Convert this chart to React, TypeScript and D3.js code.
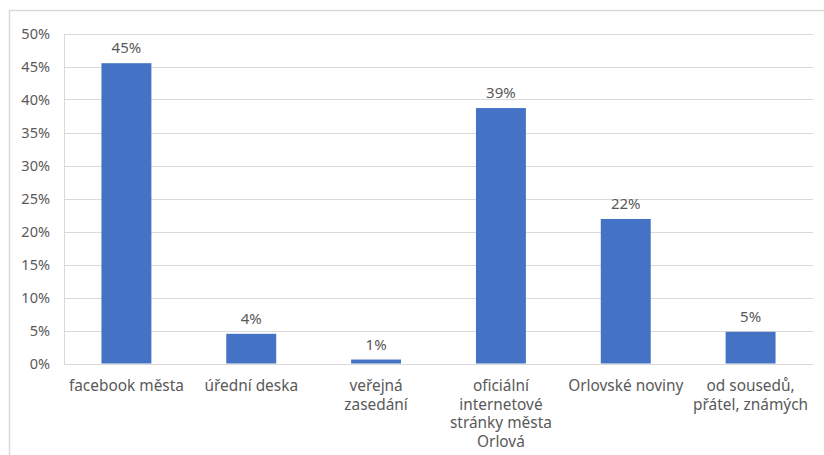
import { useEffect, useRef } from "react";
import * as d3 from "d3";

const categories = [
  ["facebook města"],
  ["úřední deska"],
  ["veřejná", "zasedání"],
  ["oficiální", "internetové", "stránky města", "Orlová"],
  ["Orlovské noviny"],
  ["od sousedů,", "přátel, známých"],
];
const values = [45.5, 4.5, 0.6, 38.7, 21.9, 4.8];
const valueLabels = ["45%", "4%", "1%", "39%", "22%", "5%"];
const yTicks = [0, 5, 10, 15, 20, 25, 30, 35, 40, 45, 50];

const W = 824;
const H = 455;
const FONT = "'Noto Sans', sans-serif";
const GREY = "#595959";
const LINE = "#d9d9d9";

export default function App() {
  const ref = useRef<SVGSVGElement | null>(null);

  useEffect(() => {
    const svg = d3.select(ref.current);
    svg.selectAll("*").remove();

    const left = 64;
    const right = 813;
    const top = 33.5;
    const bottom = 363.5;

    // chart frame (cut off on right/bottom like the reference)
    svg.append("rect")
      .attr("x", 9.5).attr("y", 10.5)
      .attr("width", 840).attr("height", 470)
      .attr("fill", "white").attr("stroke", LINE).attr("stroke-width", 1.5);

    const x = d3.scaleBand<number>()
      .domain(d3.range(categories.length))
      .range([left, right])
      .padding(0);
    const y = d3.scaleLinear().domain([0, 50]).range([bottom, top]);
    const barW = x.bandwidth() * 0.4;

    svg.append("g")
      .selectAll("line")
      .data(yTicks)
      .enter()
      .append("line")
      .attr("x1", left).attr("x2", right)
      .attr("y1", (d) => Math.round(y(d)) + 0.5)
      .attr("y2", (d) => Math.round(y(d)) + 0.5)
      .attr("stroke", LINE).attr("stroke-width", 1);

    svg.append("line")
      .attr("x1", left + 0.5).attr("x2", left + 0.5)
      .attr("y1", Math.round(top)).attr("y2", Math.round(bottom) + 0.5)
      .attr("stroke", LINE);

    svg.append("g")
      .selectAll("text")
      .data(yTicks)
      .enter()
      .append("text")
      .attr("x", 50)
      .attr("y", (d) => y(d))
      .attr("dy", "0.36em")
      .attr("text-anchor", "end")
      .attr("font-family", FONT)
      .attr("font-size", "14.5px")
      .attr("fill", GREY)
      .text((d) => `${d}%`);

    svg.append("g")
      .selectAll("rect")
      .data(values)
      .enter()
      .append("rect")
      .attr("x", (d, i) => (x(i) as number) + (x.bandwidth() - barW) / 2)
      .attr("y", (d) => y(d))
      .attr("width", barW)
      .attr("height", (d) => bottom - y(d))
      .attr("fill", "#4472c4");

    svg.append("g")
      .selectAll("text")
      .data(values)
      .enter()
      .append("text")
      .attr("x", (d, i) => (x(i) as number) + x.bandwidth() / 2)
      .attr("y", (d) => y(d) - 10)
      .attr("text-anchor", "middle")
      .attr("font-family", FONT)
      .attr("font-size", "15px")
      .attr("fill", GREY)
      .text((d, i) => valueLabels[i]);

    const cat = svg.append("g")
      .selectAll("text")
      .data(categories)
      .enter()
      .append("text")
      .attr("text-anchor", "middle")
      .attr("font-family", FONT)
      .attr("font-size", "15.4px")
      .attr("fill", GREY);

    cat.selectAll("tspan")
      .data((d, i) => d.map((line) => ({ line, i })))
      .enter()
      .append("tspan")
      .attr("x", (d) => (x(d.i) as number) + x.bandwidth() / 2)
      .attr("y", (d, j) => 391 + j * 18.5)
      .text((d) => d.line);
  }, []);

  return (
    <div style={{ position: "absolute", left: 0, top: 0 }}>
      <svg ref={ref} width={W} height={H} style={{ display: "block" }}></svg>
    </div>
  );
}
